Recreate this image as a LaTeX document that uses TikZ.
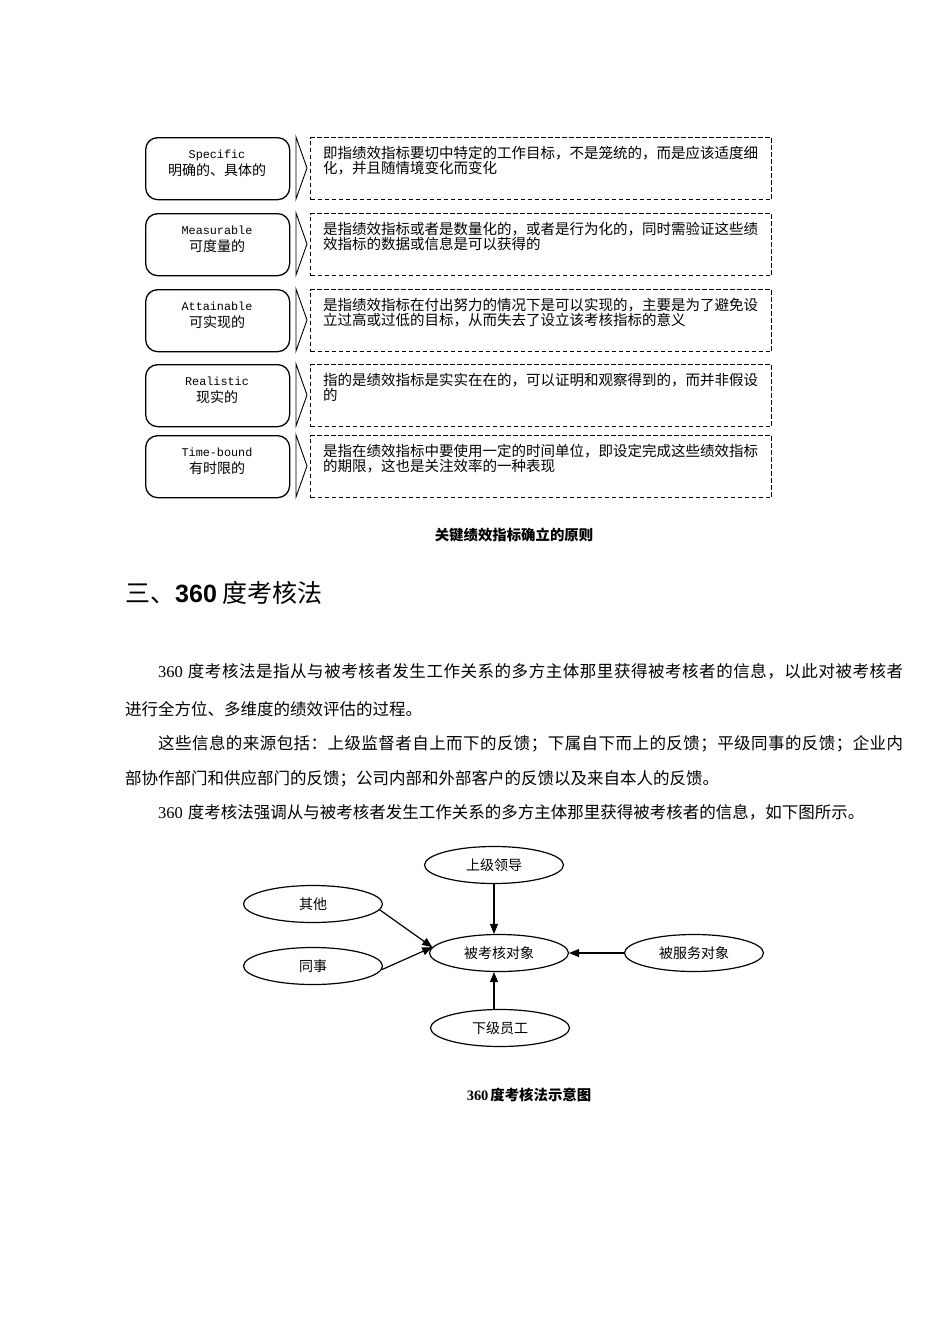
\documentclass[tikz,border=0pt]{standalone}
\usepackage{fontspec}
\setmainfont{Liberation Serif}
\newfontfamily\cjk{Noto Sans CJK SC}
\newfontfamily\monofnt{Liberation Mono}
\newfontfamily\sansfnt{Liberation Sans}
\usetikzlibrary{shapes.geometric,arrows.meta,calc}
\def\spreadline#1{\spreadaux#1\relax}
\def\spreadaux#1{\ifx\relax#1\unskip\else#1\hskip 0pt plus 1fil\expandafter\spreadaux\fi}
\tikzset{
  rbox/.style={draw, line width=1.3pt, rounded corners=12pt, minimum width=144pt, minimum height=62pt, inner sep=0pt, anchor=north west},
  dbox/.style={draw, line width=1pt, dash pattern=on 4.5pt off 2.5pt, minimum width=461pt, minimum height=62pt, inner sep=0pt, anchor=north west},
  chev/.style={draw, line width=0.9pt, line join=miter},
  entxt/.style={inner sep=0pt, anchor=base, font=\monofnt\fontsize{11.8}{13}\selectfont},
  zhtxt/.style={inner sep=0pt, anchor=base, font=\cjk\fontsize{14}{16}\selectfont},
  desc/.style={inner sep=0pt, anchor=base west, font=\cjk\fontsize{14.5}{16}\selectfont},
  body/.style={inner sep=0pt, anchor=base west, font=\cjk\fontsize{16.5}{18}\selectfont},
  captxt/.style={inner sep=0pt, anchor=base, font=\cjk\bfseries\fontsize{14.4}{16}\selectfont},
  ell/.style={ellipse, draw, line width=1.2pt, minimum width=139pt, minimum height=37pt, inner sep=0pt, font=\cjk\fontsize{14}{16}\selectfont},
  arr/.style={-{Triangle[length=10pt,width=8pt]}, line width=1.2pt}
}
\begin{document}
\begin{tikzpicture}[x=1pt,y=-1pt]
\useasboundingbox (0,0) rectangle (950,1344);
\fill[white] (0,0) rectangle (950,1344);

\foreach \ya/\eng/\chn/\lna/\lnb [count=\i] in {
 137/Specific/明确的、具体的/即指绩效指标要切中特定的工作目标，不是笼统的，而是应该适度细/化，并且随情境变化而变化,
 213/Measurable/可度量的/是指绩效指标或者是数量化的，或者是行为化的，同时需验证这些绩/效指标的数据或信息是可以获得的,
 289/Attainable/可实现的/是指绩效指标在付出努力的情况下是可以实现的，主要是为了避免设/立过高或过低的目标，从而失去了设立该考核指标的意义,
 364/Realistic/现实的/指的是绩效指标是实实在在的，可以证明和观察得到的，而并非假设/的,
 435/Time-bound/有时限的/是指在绩效指标中要使用一定的时间单位，即设定完成这些绩效指标/的期限，这也是关注效率的一种表现}
{
  \node[rbox] (r\i) at (145,\ya) {};
  \node[entxt] (re\i) at (217,\ya+21) {\eng};
  \node[zhtxt] (rz\i) at (217,\ya+38) {\chn};
  \draw[chev] (296,\ya) -- (307,\ya+31) -- (296,\ya+62) -- cycle;
  \node[dbox] (d\i) at (310,\ya) {};
  \node[desc] (da\i) at (323,\ya+21) {\lna};
  \node[desc] (db\i) at (323,\ya+36) {\lnb};
}

\node[captxt] (cap1) at (514,540) {关键绩效指标确立的原则};

\node[inner sep=0pt, anchor=base west, font=\cjk\fontsize{25}{28}\selectfont] (head) at (125,602)
  {三、{\sansfnt\bfseries 360}\hspace{6pt}度考核法};

\node[body] (p1) at (158,677) {\hbox to 745pt{{\rmfamily 360}\hspace{5pt}\spreadline{度考核法是指从与被考核者发生工作关系的多方主体那里获得被考核者的信息，以此对被考核者}}};
\node[body] (p2) at (125,715) {进行全方位、多维度的绩效评估的过程。};
\node[body] (p3) at (158,749) {\hbox to 745pt{\spreadline{这些信息的来源包括：上级监督者自上而下的反馈；下属自下而上的反馈；平级同事的反馈；企业内}}};
\node[body] (p4) at (125,784) {部协作部门和供应部门的反馈；公司内部和外部客户的反馈以及来自本人的反馈。};
\node[body] (p5) at (158,818) {{\rmfamily 360}\hspace{5pt}度考核法强调从与被考核者发生工作关系的多方主体那里获得被考核者的信息，如下图所示。};

\node[ell] (sj) at (494,865) {上级领导};
\node[ell] (qt) at (313,904) {其他};
\node[ell] (ts) at (313,966) {同事};
\node[ell] (bk) at (499,953) {被考核对象};
\node[ell] (fw) at (694,953) {被服务对象};
\node[ell] (xj) at (500,1028) {下级员工};

\draw[arr] (sj.south) -- (sj.south |- bk.north);
\draw[arr] (xj.north -| sj.south) -- (sj.south |- bk.south);
\draw[arr] (fw) -- (bk);
\draw[arr] (qt.-5) -- (bk.175);
\draw[arr] (ts.-3) -- (bk.175);

\node[captxt] (cap2) at (529,1100) {{\rmfamily\bfseries 360}\hspace{2pt}度考核法示意图};
\end{tikzpicture}
\end{document}
